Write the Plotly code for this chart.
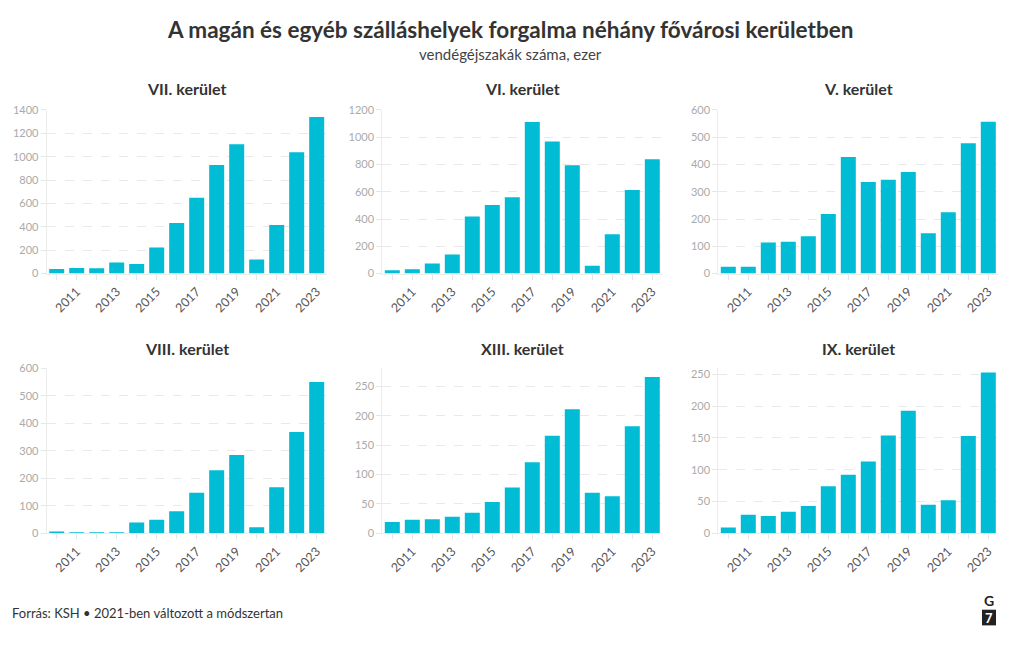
import plotly.graph_objects as go

years = list(range(2010, 2024))
districts = ["VII. kerület", "VI. kerület", "V. kerület", "VIII. kerület", "XIII. kerület", "IX. kerület"]
vii = [39, 47, 45, 95, 81, 223, 432, 648, 928, 1107, 120, 416, 1037, 1339]
vi = [24, 31, 74, 139, 418, 502, 559, 1112, 968, 794, 57, 289, 612, 839]
v = [25, 25, 114, 117, 137, 218, 427, 336, 344, 372, 148, 225, 478, 557]
viii = [6, 2, 2, 4, 39, 49, 80, 147, 229, 284, 22, 167, 368, 550]
xiii = [19, 23, 24, 28, 35, 53, 78, 121, 166, 211, 69, 63, 182, 266]
ix = [9, 29, 27, 34, 43, 74, 92, 113, 154, 193, 45, 52, 153, 253]
series = [vii, vi, v, viii, xiii, ix]
y_max = [1400, 1200, 600, 600, 281, 260]
y_dtick = [200, 200, 100, 100, 50, 50]

FONT = "Lato"
BAR = "#00bcd4"

x_domains = [[46.7 / 1020, 326.7 / 1020], [382.3 / 1020, 662.3 / 1020], [718.3 / 1020, 998.3 / 1020]]
y_domains = [[(650 - 272) / 650, (650 - 105) / 650], [(650 - 537) / 650, (650 - 368.5) / 650]]

fig = go.Figure()
layout = {}
annotations = []
for i, (name, vals) in enumerate(zip(districts, series)):
    r, c = divmod(i, 3)
    idx = "" if i == 0 else str(i + 1)
    fig.add_trace(go.Bar(x=years, y=vals, marker_color=BAR, marker_line_width=0,
                         xaxis="x" + idx, yaxis="y" + idx, showlegend=False,
                         hovertemplate="%{x}: %{y}<extra></extra>"))
    layout["xaxis" + idx] = dict(
        domain=x_domains[c], anchor="y" + idx, range=[2009.5, 2023.5],
        tickmode="linear", tick0=2011, dtick=2, tickangle=-45,
        ticks="outside", ticklen=5, tickcolor="#e6e6e6",
        minor=dict(dtick=1, tick0=2010, ticks="outside", ticklen=5, tickcolor="#e6e6e6"),
        showline=True, linecolor="#ececec", linewidth=1, showgrid=False, zeroline=False,
        tickfont=dict(family=FONT, size=12.5, color="#555555"), fixedrange=True)
    layout["yaxis" + idx] = dict(
        domain=y_domains[r], anchor="x" + idx, range=[0, y_max[i]],
        tickmode="linear", tick0=0, dtick=y_dtick[i],
        ticks="outside", ticklen=5, tickcolor="#e6e6e6",
        showline=True, linecolor="#ececec", linewidth=1,
        showgrid=True, gridcolor="#e9e9e9", griddash="dash", gridwidth=1, zeroline=False,
        tickfont=dict(family=FONT, size=11, color="#aaaaaa"), fixedrange=True)
    annotations.append(dict(text="<b>" + name + "</b>", x=sum(x_domains[c]) / 2, xref="paper",
                            y=(650 - (83 if r == 0 else 348)) / 650, yref="paper",
                            xanchor="center", yanchor="middle", showarrow=False,
                            font=dict(family=FONT, size=16, color="#333333")))

annotations += [
    dict(text="<b>A magán és egyéb szálláshelyek forgalma néhány fővárosi kerületben</b>",
         x=0.5, xref="paper", y=(650 - 23) / 650, yref="paper", xanchor="center", yanchor="middle",
         showarrow=False, font=dict(family=FONT, size=22.5, color="#333333")),
    dict(text="vendégéjszakák száma, ezer", x=0.5, xref="paper", y=(650 - 48) / 650, yref="paper",
         xanchor="center", yanchor="middle", showarrow=False,
         font=dict(family=FONT, size=15, color="#444444")),
    dict(text="Forrás: KSH • 2021-ben változott a módszertan", x=10 / 1020, xref="paper",
         y=(650 - 618) / 650, yref="paper", xanchor="left", yanchor="middle", showarrow=False,
         font=dict(family=FONT, size=13, color="#333333")),
    dict(text="<b>G</b>", x=989 / 1020, xref="paper", y=(650 - 606) / 650, yref="paper",
         xanchor="center", yanchor="middle", showarrow=False,
         font=dict(family=FONT, size=14, color="#222222")),
    dict(text="<b>7</b>", x=989 / 1020, xref="paper", y=(650 - 623) / 650, yref="paper",
         xanchor="center", yanchor="middle", showarrow=False,
         font=dict(family=FONT, size=13, color="#ffffff")),
]

shapes = [dict(type="rect", xref="paper", yref="paper",
               x0=982 / 1020, x1=996 / 1020, y0=(650 - 631) / 650, y1=(650 - 615) / 650,
               fillcolor="#222222", line_width=0, layer="below")]

fig.update_layout(**layout)
fig.update_layout(
    width=1020, height=650, margin=dict(l=0, r=0, t=0, b=0),
    paper_bgcolor="white", plot_bgcolor="white",
    bargap=0.25, annotations=annotations, shapes=shapes,
    font=dict(family=FONT),
)

fig.write_html("out.html", config={"displayModeBar": False},
               post_script="document.body.style.margin='0';document.body.style.overflow='hidden';")
